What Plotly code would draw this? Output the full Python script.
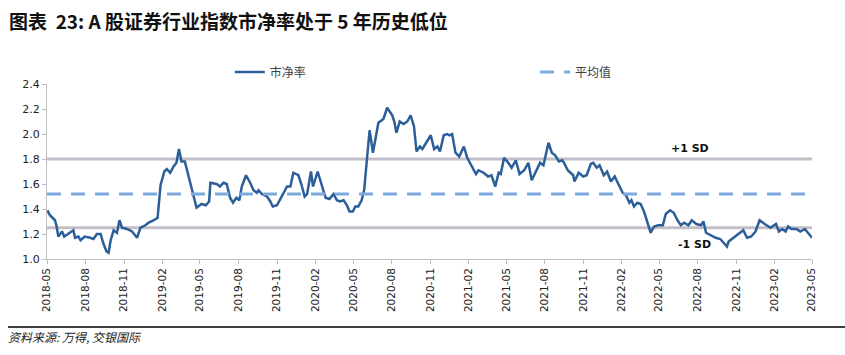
import plotly.graph_objects as go

dates = [
    "2018-05-02","2018-05-08","2018-05-20","2018-05-24","2018-05-28","2018-06-06","2018-06-11","2018-06-21",
    "2018-07-03","2018-07-07","2018-07-15","2018-07-20","2018-07-30","2018-08-12","2018-08-20","2018-08-28",
    "2018-09-06","2018-09-12","2018-09-20","2018-09-25","2018-09-30","2018-10-07","2018-10-15","2018-10-21",
    "2018-10-27","2018-11-08","2018-11-20","2018-12-02","2018-12-10","2018-12-22","2018-12-29","2019-01-11",
    "2019-01-20","2019-01-27","2019-02-05","2019-02-11","2019-02-19","2019-02-27","2019-03-06","2019-03-12",
    "2019-03-18","2019-03-26","2019-04-03","2019-04-14","2019-04-23","2019-05-05","2019-05-15","2019-05-23",
    "2019-05-26","2019-06-10","2019-06-18","2019-06-26","2019-07-04","2019-07-12","2019-07-19","2019-07-27",
    "2019-08-03","2019-08-09","2019-08-19","2019-08-29","2019-09-06","2019-09-14","2019-09-18","2019-09-26",
    "2019-10-08","2019-10-16","2019-10-22","2019-11-01","2019-11-13","2019-11-25","2019-12-03","2019-12-10",
    "2019-12-22","2019-12-29","2020-01-06","2020-01-12","2020-01-21","2020-01-26","2020-02-06","2020-02-15",
    "2020-02-25","2020-03-05","2020-03-15","2020-03-23","2020-03-30","2020-04-08","2020-04-16","2020-04-22",
    "2020-04-30","2020-05-06","2020-05-13","2020-05-21","2020-05-27","2020-06-03","2020-06-09","2020-06-17",
    "2020-06-23","2020-06-30","2020-07-12","2020-07-21","2020-08-02","2020-08-07","2020-08-12","2020-08-20",
    "2020-08-29","2020-09-07","2020-09-15","2020-09-23","2020-09-29","2020-10-07","2020-10-13","2020-10-24",
    "2020-11-02","2020-11-10","2020-11-18","2020-11-24","2020-12-03","2020-12-11","2020-12-17","2020-12-23",
    "2020-12-31","2021-01-09","2021-01-20","2021-01-28","2021-02-08","2021-02-18","2021-02-24","2021-03-08",
    "2021-03-19","2021-03-27","2021-04-05","2021-04-13","2021-04-18","2021-04-26","2021-05-06","2021-05-14",
    "2021-05-24","2021-06-02","2021-06-13","2021-06-23","2021-07-01","2021-07-11","2021-07-21","2021-07-29",
    "2021-08-10","2021-08-18","2021-08-26","2021-09-04","2021-09-12","2021-09-16","2021-09-25","2021-10-08",
    "2021-10-11","2021-10-21","2021-11-01","2021-11-09","2021-11-19","2021-11-25","2021-12-03","2021-12-10",
    "2021-12-20","2021-12-28","2022-01-06","2022-01-15","2022-01-23","2022-02-03","2022-02-11","2022-02-19",
    "2022-02-24","2022-03-02","2022-03-10","2022-03-18","2022-03-26","2022-04-03","2022-04-11","2022-04-19",
    "2022-04-29","2022-05-10","2022-05-17","2022-05-27","2022-06-05","2022-06-14","2022-06-22","2022-06-30",
    "2022-07-10","2022-07-18","2022-07-29","2022-08-09","2022-08-15","2022-08-21","2022-09-01","2022-09-13",
    "2022-09-24","2022-10-10","2022-10-14","2022-10-26","2022-11-04","2022-11-18","2022-11-27","2022-12-07",
    "2022-12-17","2022-12-27","2023-01-08","2023-01-22","2023-02-04","2023-02-11","2023-02-19","2023-02-27",
    "2023-03-05","2023-03-13","2023-03-25","2023-04-03","2023-04-14","2023-04-26","2023-05-01",
]
pb = [
    1.39,1.35,1.31,1.26,1.18,1.22,1.18,1.20,
    1.23,1.17,1.18,1.15,1.18,1.17,1.16,1.20,
    1.20,1.13,1.06,1.05,1.15,1.23,1.21,1.31,
    1.25,1.24,1.22,1.17,1.25,1.27,1.29,1.31,
    1.33,1.59,1.70,1.72,1.69,1.74,1.77,1.88,
    1.78,1.78,1.67,1.53,1.41,1.44,1.43,1.46,
    1.61,1.60,1.58,1.61,1.60,1.49,1.45,1.49,
    1.47,1.58,1.67,1.61,1.55,1.53,1.55,1.52,
    1.50,1.46,1.42,1.43,1.51,1.58,1.58,1.69,
    1.67,1.60,1.50,1.52,1.70,1.58,1.70,1.59,
    1.49,1.48,1.52,1.47,1.46,1.47,1.43,1.38,
    1.38,1.42,1.42,1.47,1.55,1.81,2.03,1.85,
    1.97,2.09,2.12,2.21,2.15,2.10,2.01,2.10,
    2.08,2.10,2.15,2.06,1.86,1.90,1.88,1.94,
    1.99,1.88,1.90,1.86,1.99,2.00,1.99,2.00,
    1.85,1.82,1.90,1.81,1.74,1.68,1.71,1.69,
    1.66,1.67,1.58,1.69,1.68,1.81,1.77,1.73,
    1.79,1.68,1.71,1.77,1.63,1.70,1.77,1.75,
    1.93,1.85,1.83,1.78,1.79,1.77,1.71,1.67,
    1.62,1.69,1.66,1.67,1.76,1.77,1.73,1.75,
    1.67,1.70,1.62,1.66,1.61,1.53,1.51,1.45,
    1.47,1.42,1.45,1.44,1.38,1.30,1.21,1.26,
    1.27,1.27,1.36,1.39,1.37,1.31,1.27,1.29,
    1.27,1.31,1.28,1.27,1.30,1.21,1.19,1.17,
    1.16,1.10,1.14,1.17,1.19,1.23,1.17,1.18,
    1.22,1.31,1.28,1.25,1.28,1.22,1.24,1.22,
    1.26,1.24,1.24,1.22,1.24,1.19,1.17,
]
mean_val = 1.52
plus_sd = 1.80
minus_sd = 1.25
span = ["2018-05-01", "2023-05-01"]
y_ticks = [1.0, 1.2, 1.4, 1.6, 1.8, 2.0, 2.2, 2.4]

fig = go.Figure()
fig.add_trace(go.Scatter(x=span, y=[plus_sd]*2, mode="lines", showlegend=False,
                         line=dict(color="#C3BEC8", width=3), hoverinfo="skip"))
fig.add_trace(go.Scatter(x=span, y=[minus_sd]*2, mode="lines", showlegend=False,
                         line=dict(color="#C3BEC8", width=3), hoverinfo="skip"))
fig.add_trace(go.Scatter(x=dates, y=pb, mode="lines", name="市净率", legend="legend",
                         line=dict(color="#2C5E99", width=2.5)))
fig.add_trace(go.Scatter(x=span, y=[mean_val]*2, mode="lines", name="平均值", legend="legend2",
                         line=dict(color="#7DAADD", width=3, dash="14px,10px")))

fig.add_annotation(x="2022-07-13", y=plus_sd, text="<b>+1 SD</b>", showarrow=False,
                   yanchor="bottom", yshift=2, font=dict(size=11, color="#111", family="DejaVu Sans"))
fig.add_annotation(x="2022-07-24", y=minus_sd, text="<b>-1 SD</b>", showarrow=False,
                   yanchor="top", yshift=-8, font=dict(size=11, color="#111", family="DejaVu Sans"))

fig.add_annotation(xref="paper", yref="paper", x=-0.053, y=-0.445, xanchor="left", yanchor="middle",
                   text="<i>资料来源: 万得, 交银国际</i>", showarrow=False,
                   font=dict(size=12, color="#222", family="Noto Sans CJK SC"))
fig.add_shape(type="line", xref="paper", yref="paper", x0=-0.051, x1=1.07, y0=-0.3886, y1=-0.3886,
              line=dict(color="#000", width=1.5))

legend_font = dict(size=12, color="#404040", family="Noto Sans CJK SC")
fig.update_layout(
    width=845, height=355,
    margin=dict(l=47, r=33, t=84, b=96, autoexpand=False),
    plot_bgcolor="white", paper_bgcolor="white",
    title=dict(text="<b>图表  23: A 股证券行业指数市净率处于 5 年历史低位</b>",
               xref="container", yref="container", x=9/845, y=1-22/355,
               xanchor="left", yanchor="middle",
               font=dict(size=19, color="#111", family="Noto Sans CJK SC")),
    legend=dict(orientation="h", x=0.239, y=1.069, xanchor="left", yanchor="middle",
                font=legend_font, bgcolor="rgba(0,0,0,0)"),
    legend2=dict(orientation="h", x=0.638, y=1.069, xanchor="left", yanchor="middle",
                 font=legend_font, bgcolor="rgba(0,0,0,0)"),
    xaxis=dict(type="date", range=span, tickformat="%Y-%m", dtick="M3", tick0="2018-05-01",
               tickangle=-90, showgrid=False, showline=True, linecolor="#BFBFBF", linewidth=1,
               ticks="outside", ticklen=4, tickcolor="#BFBFBF",
               tickfont=dict(size=10.5, color="#222", family="DejaVu Sans")),
    yaxis=dict(range=[1.0, 2.4], tickvals=y_ticks, tickformat=".1f", showgrid=False,
               showline=True, linecolor="#BFBFBF", linewidth=1, ticks="outside", ticklen=4,
               tickcolor="#BFBFBF", zeroline=False,
               tickfont=dict(size=11, color="#222", family="DejaVu Sans")),
)

fig.write_html("out.html", config={"displayModeBar": False},
               post_script="document.body.style.margin='0px';")
